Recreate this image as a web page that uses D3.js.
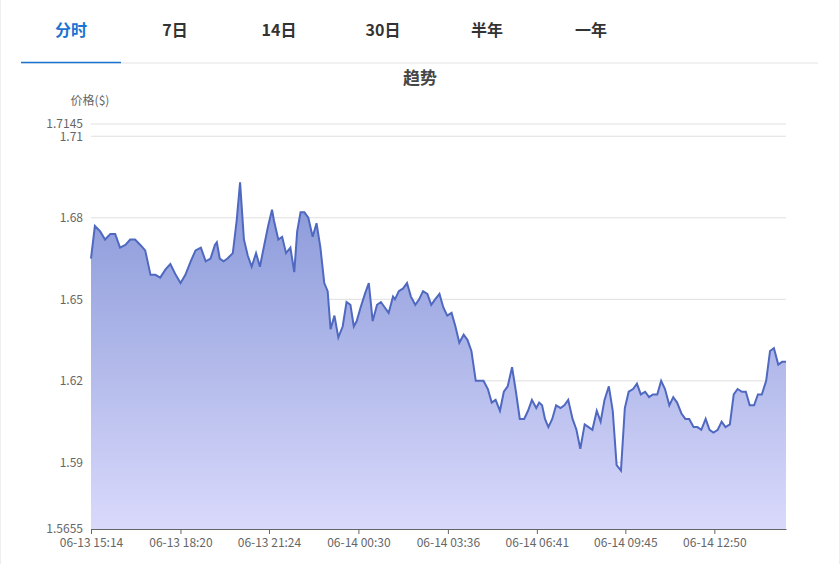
<!DOCTYPE html>
<html><head><meta charset="utf-8">
<script src="https://cdn.jsdelivr.net/npm/d3@7"></script>
<style>body{margin:0;background:#fff;font-family:"Microsoft YaHei","Noto Sans CJK SC",sans-serif;}</style>
</head><body><div id="vis"></div>
<script>
const tabs = ["分时", "7日", "14日", "30日", "半年", "一年"];
const tickLabels = ["06-13 15:14","06-13 18:20","06-13 21:24","06-14 00:30","06-14 03:36","06-14 06:41","06-14 09:45","06-14 12:50"];
const tickMinutes = [0, 186, 370, 556, 742, 927, 1111, 1296];
const yTicks = [1.5655, 1.59, 1.62, 1.65, 1.68, 1.71, 1.7145];
// minutes since 06-13 15:14
const minutes = [0,8,19,29,40,50,60,71,81,91,102,112,123,133,143,154,164,175,185,195,206,216,227,237,247,256,260,266,274,282,293,301,308,316,324,332,341,349,358,366,374,378,387,395,403,412,420,426,433,441,449,458,466,474,482,489,495,503,511,520,528,536,543,549,557,566,574,582,591,599,607,615,624,628,636,645,653,661,670,678,686,695,703,711,720,728,736,745,753,761,770,778,786,795,803,811,820,828,836,845,853,861,870,878,886,895,903,911,920,926,932,938,945,953,961,970,978,986,995,1003,1011,1020,1028,1036,1045,1053,1061,1070,1078,1086,1095,1103,1111,1120,1128,1136,1145,1153,1161,1170,1178,1186,1195,1203,1211,1220,1228,1236,1245,1253,1261,1270,1278,1286,1295,1303,1311,1320,1328,1336,1345,1353,1361,1370,1378,1386,1395,1403,1411,1420,1428,1436,1445];
const prices = [1.665,1.677,1.675,1.672,1.674,1.674,1.669,1.670,1.672,1.672,1.670,1.668,1.659,1.659,1.658,1.661,1.663,1.659,1.656,1.659,1.664,1.668,1.669,1.664,1.665,1.670,1.671,1.665,1.664,1.665,1.667,1.679,1.693,1.672,1.666,1.662,1.667,1.662,1.670,1.677,1.683,1.679,1.672,1.673,1.667,1.669,1.660,1.675,1.682,1.682,1.680,1.673,1.678,1.669,1.656,1.653,1.639,1.644,1.636,1.640,1.649,1.648,1.640,1.642,1.647,1.652,1.656,1.642,1.648,1.649,1.647,1.645,1.651,1.650,1.653,1.654,1.656,1.651,1.648,1.650,1.653,1.652,1.648,1.650,1.652,1.647,1.644,1.645,1.640,1.634,1.637,1.635,1.631,1.620,1.620,1.620,1.617,1.612,1.613,1.609,1.616,1.618,1.625,1.616,1.606,1.606,1.609,1.613,1.610,1.612,1.611,1.606,1.603,1.606,1.611,1.610,1.611,1.613,1.606,1.602,1.595,1.604,1.603,1.602,1.609,1.605,1.613,1.618,1.609,1.589,1.587,1.610,1.616,1.617,1.619,1.615,1.616,1.614,1.615,1.615,1.620,1.617,1.611,1.614,1.612,1.608,1.606,1.606,1.603,1.603,1.602,1.606,1.602,1.601,1.602,1.605,1.603,1.604,1.615,1.617,1.616,1.616,1.611,1.611,1.615,1.615,1.620,1.631,1.632,1.626,1.627,1.627];
// align lengths (minutes array may be longer)
const n = Math.min(minutes.length, prices.length);
const data = d3.range(n).map(i => ({t: minutes[i] * (1445 / minutes[n - 1]), v: prices[i]}));

const width = 840, height = 564;
const svg = d3.select("#vis").append("svg").attr("width", width).attr("height", height);

svg.append("rect").attr("x", 0.5).attr("y", -1).attr("width", width - 1).attr("height", height + 2)
  .attr("fill", "none").attr("stroke", "#eee");

const tabX = [71, 175, 279, 383, 487, 591];
svg.selectAll(".tab").data(tabs).join("text")
  .attr("x", (d, i) => tabX[i]).attr("y", 36).attr("text-anchor", "middle")
  .attr("font-size", 16).attr("font-weight", "bold")
  .attr("fill", (d, i) => i === 0 ? "#1a73d0" : "#333").text(d => d);
svg.append("line").attr("x1", 21).attr("x2", 818).attr("y1", 63).attr("y2", 63).attr("stroke", "#e4e4e4");
svg.append("line").attr("x1", 21).attr("x2", 121).attr("y1", 62.5).attr("y2", 62.5).attr("stroke", "#1a73d0").attr("stroke-width", 1.5);

svg.append("text").attr("x", 420).attr("y", 84).attr("text-anchor", "middle")
  .attr("font-size", 17).attr("font-weight", "bold").attr("fill", "#464646").text("趋势");
svg.append("text").attr("x", 90).attr("y", 105).attr("text-anchor", "middle")
  .attr("font-size", 12).attr("fill", "#666").text("价格($)");

const x = d3.scaleLinear().domain([0, 1445]).range([91, 786]);
const y = d3.scaleLinear().domain([1.5655, 1.7145]).range([529, 124]);

svg.append("g").selectAll("line").data(yTicks.slice(1)).join("line")
  .attr("x1", 91).attr("x2", 786).attr("y1", d => y(d)).attr("y2", d => y(d))
  .attr("stroke", "#e0e0e0");

const defs = svg.append("defs");
const grad = defs.append("linearGradient").attr("id", "g").attr("x1", 0).attr("x2", 0).attr("y1", 0).attr("y2", 1);
grad.append("stop").attr("offset", "0%").attr("stop-color", "#8797d8");
grad.append("stop").attr("offset", "100%").attr("stop-color", "#d9d9fb");

svg.append("path").datum(data)
  .attr("fill", "url(#g)")
  .attr("d", d3.area().x(d => x(d.t)).y0(y(1.5655)).y1(d => y(d.v)));
svg.append("path").datum(data)
  .attr("fill", "none").attr("stroke", "#4f68c0").attr("stroke-width", 2)
  .attr("d", d3.line().x(d => x(d.t)).y(d => y(d.v)));

const yAxis = svg.append("g").attr("transform", "translate(91,0)")
  .call(d3.axisLeft(y).tickValues(yTicks).tickFormat(d => String(d)).tickSize(0).tickPadding(8));
yAxis.select(".domain").remove();
yAxis.selectAll("text").attr("font-size", 12).attr("fill", "#666").attr("font-family", "Microsoft YaHei, Noto Sans CJK SC, sans-serif");

const xAxis = svg.append("g").attr("transform", "translate(0,529)")
  .call(d3.axisBottom(x).tickValues(tickMinutes).tickFormat((d, i) => tickLabels[i]).tickSize(5).tickSizeOuter(0).tickPadding(4));
xAxis.select(".domain").attr("stroke", "#666");
xAxis.selectAll("line").attr("stroke", "#666");
xAxis.selectAll("text").attr("font-size", 12).attr("fill", "#666").attr("font-family", "Microsoft YaHei, Noto Sans CJK SC, sans-serif");
</script></body></html>
